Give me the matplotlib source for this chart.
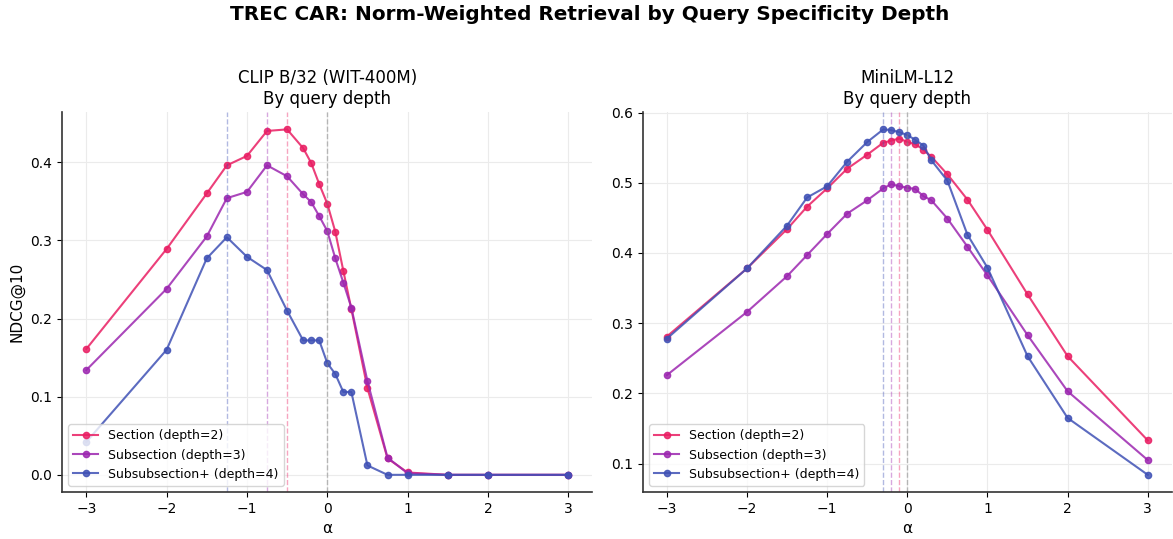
import numpy as np
import matplotlib
matplotlib.use("Agg")
import matplotlib.pyplot as plt

# alpha values
alphas = [-3, -2, -1.5, -1.25, -1, -0.75, -0.5, -0.3, -0.2, -0.1, 0,
          0.1, 0.2, 0.3, 0.5, 0.75, 1, 1.5, 2, 3]

# CLIP B/32 (WIT-400M)
clip_section = [0.161, 0.289, 0.360, 0.396, 0.408, 0.440, 0.442, 0.418, 0.399, 0.372, 0.347,
                0.311, 0.261, 0.212, 0.111, 0.021, 0.003, 0.0, 0.0, 0.0]
clip_subsection = [0.134, 0.238, 0.305, 0.354, 0.362, 0.396, 0.382, 0.359, 0.349, 0.331, 0.312,
                   0.277, 0.246, 0.214, 0.120, 0.022, 0.002, 0.0, 0.0, 0.0]
clip_subsub = [0.042, 0.160, 0.277, 0.304, 0.279, 0.262, 0.210, 0.172, 0.172, 0.172, 0.143,
               0.129, 0.106, 0.106, 0.012, 0.0, 0.0, 0.0, 0.0, 0.0]

# MiniLM-L12
mini_section = [0.281, 0.378, 0.434, 0.466, 0.492, 0.520, 0.540, 0.557, 0.560, 0.563, 0.558,
                0.555, 0.547, 0.537, 0.512, 0.476, 0.433, 0.341, 0.253, 0.133]
mini_subsection = [0.226, 0.316, 0.367, 0.397, 0.427, 0.456, 0.475, 0.492, 0.498, 0.495, 0.493,
                   0.491, 0.481, 0.475, 0.449, 0.409, 0.368, 0.283, 0.203, 0.105]
mini_subsub = [0.278, 0.378, 0.439, 0.479, 0.495, 0.530, 0.558, 0.576, 0.575, 0.572, 0.568,
               0.561, 0.553, 0.532, 0.503, 0.426, 0.379, 0.253, 0.165, 0.084]

labels = ["Section (depth=2)", "Subsection (depth=3)", "Subsubsection+ (depth=4)"]
colors = ["#E91E63", "#9C27B0", "#3F51B5"]

panels = [
    ("CLIP B/32 (WIT-400M)\nBy query depth", [clip_section, clip_subsection, clip_subsub]),
    ("MiniLM-L12\nBy query depth", [mini_section, mini_subsection, mini_subsub]),
]

fig = plt.figure(figsize=(11.73, 5.39), dpi=100)
ax1 = fig.add_axes([0.053, 0.087, 0.452, 0.705])
ax2 = fig.add_axes([0.548, 0.087, 0.451, 0.705])

for ax, (title, series) in zip([ax1, ax2], panels):
    for vals, lab, c in zip(series, labels, colors):
        ax.plot(alphas, vals, "-o", color=c, label=lab, linewidth=1.5,
                markersize=4.5, alpha=0.85)
        # dashed marker at the best alpha for this series
        best = alphas[int(np.argmax(vals))]
        ax.axvline(best, color=c, linestyle="--", linewidth=1, alpha=0.4)
    ax.axvline(0, color="gray", linestyle="--", linewidth=1, alpha=0.5)
    ax.set_title(title, fontsize=12)
    ax.set_xlabel("α", fontsize=11)
    ax.grid(True, color="#ebebeb", linewidth=0.8)
    ax.set_axisbelow(True)
    ax.spines["top"].set_visible(False)
    ax.spines["right"].set_visible(False)
    ax.spines["left"].set_color("#333333")
    ax.spines["bottom"].set_color("#333333")
    ax.spines["left"].set_linewidth(1.2)
    ax.spines["bottom"].set_linewidth(1.2)
    ax.tick_params(labelsize=10)
    ax.legend(loc="lower left", fontsize=9)

ax1.set_ylabel("NDCG@10", fontsize=11)
ax1.set_yticks([0.0, 0.1, 0.2, 0.3, 0.4])
ax2.set_yticks([0.1, 0.2, 0.3, 0.4, 0.5, 0.6])

fig.suptitle("TREC CAR: Norm-Weighted Retrieval by Query Specificity Depth",
             fontsize=14.4, fontweight="bold", x=0.503, y=0.99)

fig.savefig("out.png", dpi=100)
